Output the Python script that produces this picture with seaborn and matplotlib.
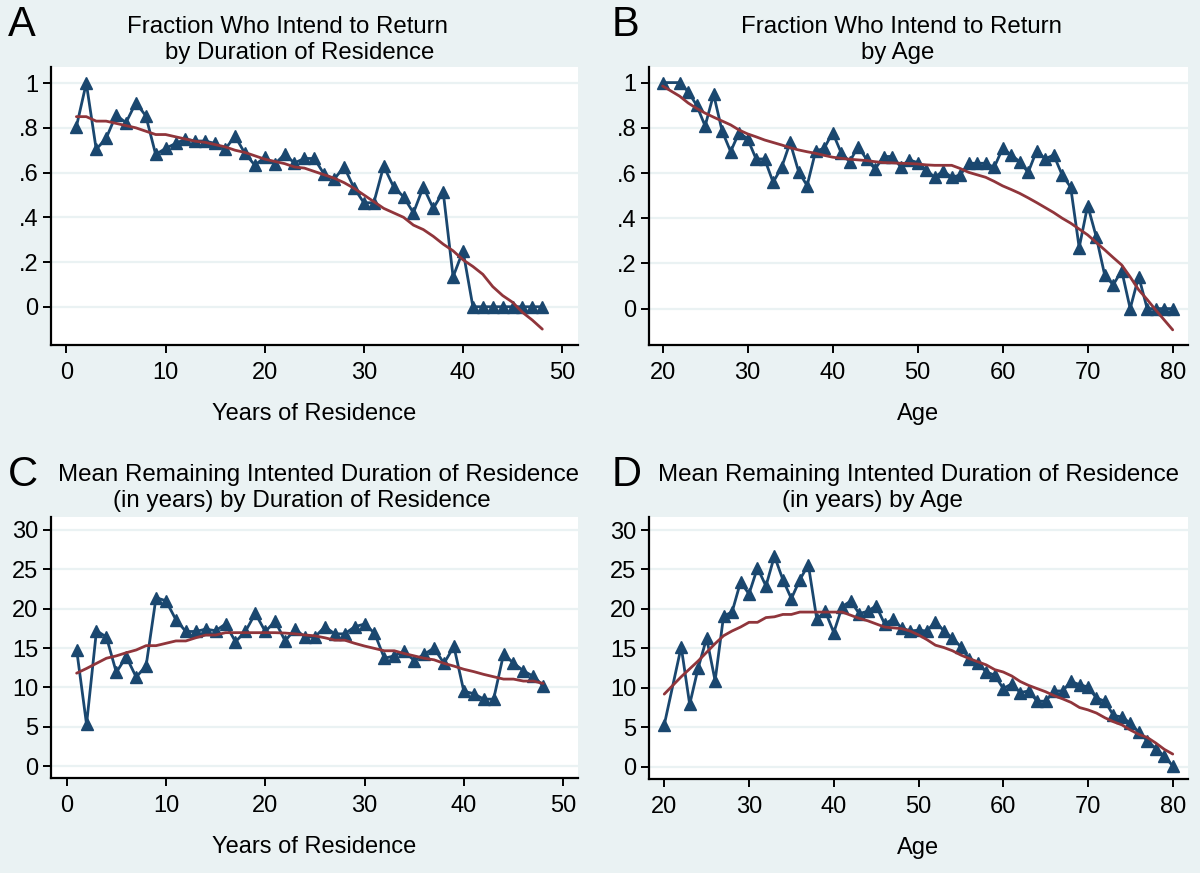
import matplotlib
matplotlib.use("Agg")
import matplotlib.pyplot as plt
import seaborn as sns
import pandas as pd

# ---------------- data ----------------
years = list(range(1, 49))
ages = [20] + list(range(22, 81))

frac_by_years = [0.805, 1.0, 0.704, 0.753, 0.857, 0.823, 0.912, 0.854, 0.681, 0.708,
                 0.730, 0.750, 0.741, 0.741, 0.730, 0.704, 0.763, 0.686, 0.633, 0.668,
                 0.638, 0.681, 0.643, 0.663, 0.663, 0.592, 0.570, 0.626, 0.532, 0.465,
                 0.465, 0.629, 0.536, 0.492, 0.420, 0.536, 0.440, 0.514, 0.134, 0.250,
                 0.0, 0.0, 0.0, 0.0, 0.0, 0.0, 0.0, 0.0]
fit_frac_by_years = [0.85, 0.85, 0.83, 0.83, 0.82, 0.81, 0.80, 0.785, 0.77, 0.77,
                     0.76, 0.75, 0.74, 0.735, 0.725, 0.715, 0.70, 0.69, 0.675, 0.66,
                     0.65, 0.64, 0.625, 0.62, 0.605, 0.59, 0.575, 0.555, 0.53, 0.50,
                     0.47, 0.44, 0.42, 0.40, 0.365, 0.345, 0.315, 0.28, 0.25, 0.21,
                     0.18, 0.145, 0.09, 0.05, 0.02, -0.025, -0.06, -0.10]

frac_by_age = [1.0, 1.0, 0.96, 0.90, 0.808, 0.948, 0.786, 0.695, 0.779, 0.751,
               0.662, 0.662, 0.559, 0.625, 0.735, 0.606, 0.544, 0.697, 0.709, 0.779,
               0.690, 0.650, 0.717, 0.660, 0.618, 0.673, 0.673, 0.628, 0.658, 0.646,
               0.614, 0.581, 0.609, 0.581, 0.591, 0.643, 0.643, 0.643, 0.625, 0.709,
               0.680, 0.650, 0.603, 0.699, 0.662, 0.680, 0.591, 0.537, 0.270, 0.456,
               0.319, 0.149, 0.105, 0.168, 0.0, 0.142, 0.0, 0.0, 0.0, 0.0]
fit_frac_by_age = [0.985, 0.94, 0.91, 0.886, 0.865, 0.847, 0.83, 0.813, 0.79, 0.773,
                   0.76, 0.746, 0.735, 0.724, 0.712, 0.702, 0.694, 0.687, 0.678, 0.67,
                   0.665, 0.661, 0.658, 0.655, 0.65, 0.646, 0.645, 0.643, 0.642, 0.64,
                   0.636, 0.634, 0.634, 0.634, 0.62, 0.603, 0.592, 0.581, 0.563, 0.543,
                   0.527, 0.51, 0.49, 0.469, 0.447, 0.425, 0.40, 0.378, 0.352, 0.326,
                   0.293, 0.26, 0.226, 0.193, 0.14, 0.083, 0.04, -0.006, -0.05, -0.094]

dur_by_years = [14.8, 5.3, 17.2, 16.4, 11.9, 13.9, 11.3, 12.75, 21.4, 21.0,
                18.6, 17.1, 17.1, 17.4, 17.2, 18.05, 15.8, 17.1, 19.4, 17.1,
                18.4, 15.9, 17.4, 16.4, 16.4, 17.7, 16.8, 16.8, 17.7, 18.05,
                16.9, 13.7, 14.0, 14.6, 13.4, 14.2, 15.0, 13.05, 15.2, 9.5,
                9.2, 8.5, 8.5, 14.2, 13.1, 12.1, 11.4, 10.2]
fit_dur_by_years = [11.8, 12.4, 13.05, 13.7, 14.0, 14.4, 14.75, 15.3, 15.3, 15.6,
                    15.9, 15.9, 16.3, 16.65, 16.65, 16.95, 16.95, 16.95, 16.95, 16.95,
                    16.95, 16.9, 16.8, 16.65, 16.55, 16.3, 16.0, 16.0, 15.6, 15.25,
                    14.95, 14.65, 14.65, 14.3, 14.0, 13.7, 13.5, 13.05, 12.7, 12.3,
                    12.0, 11.65, 11.35, 11.05, 11.05, 10.8, 10.8, 10.5]

dur_by_age = [5.3, 15.2, 7.9, 12.5, 16.3, 10.9, 19.1, 19.6, 23.4, 21.9,
              25.2, 22.9, 26.7, 23.7, 21.3, 23.7, 25.6, 18.7, 19.7, 17.0,
              20.3, 21.0, 19.4, 19.7, 20.4, 18.1, 18.7, 17.6, 17.2, 17.3,
              17.2, 18.4, 17.2, 16.3, 15.2, 13.6, 13.1, 12.0, 11.6, 9.9,
              10.5, 9.4, 9.6, 8.3, 8.3, 9.6, 9.6, 10.8, 10.4, 10.1,
              8.7, 8.3, 6.5, 6.3, 5.5, 4.35, 3.3, 2.3, 1.35, 0.1]
fit_dur_by_age = [9.2, 11.4, 12.4, 13.4, 14.5, 15.6, 16.6, 17.2, 17.7, 18.3,
                  18.3, 18.9, 19.0, 19.3, 19.3, 19.6, 19.6, 19.6, 19.6, 19.6,
                  19.6, 19.2, 18.8, 18.5, 18.1, 17.7, 17.6, 17.5, 17.2, 16.7,
                  16.1, 15.4, 15.1, 14.7, 14.15, 13.7, 13.3, 12.9, 12.3, 12.0,
                  11.5, 10.8, 10.3, 9.9, 9.5, 9.0, 8.6, 8.15, 7.5, 7.2,
                  6.8, 6.2, 5.7, 5.3, 4.65, 4.1, 3.7, 3.0, 2.2, 1.6]

frac_ticks = [0, 0.2, 0.4, 0.6, 0.8, 1.0]
frac_ticklabels = ["0", ".2", ".4", ".6", ".8", "1"]
dur_ticks = [0, 5, 10, 15, 20, 25, 30]
dur_ticklabels = ["0", "5", "10", "15", "20", "25", "30"]
years_ticks = [0, 10, 20, 30, 40, 50]
age_ticks = [20, 30, 40, 50, 60, 70, 80]

# ---------------- style ----------------
sns.set_theme(style="white")
plt.rcParams['font.family'] = ['Liberation Sans', 'DejaVu Sans']

BG = "#EAF2F3"
NAVY = "#1A476F"
MAROON = "#90353B"
GRID = "#EAF2F3"

W, H = 1200, 873
fig = plt.figure(figsize=(W / 100, H / 100), dpi=100, facecolor=BG)


def px_axes(left, top, right, bottom):
    return fig.add_axes([left / W, 1 - bottom / H, (right - left) / W, (bottom - top) / H])


def style_axes(ax, xlim, ylim, xticks, yticks, yticklabels, xlabel):
    ax.set_facecolor("white")
    ax.set_xlim(*xlim)
    ax.set_ylim(*ylim)
    ax.set_xticks(xticks)
    ax.set_xticklabels([str(t) for t in xticks])
    ax.set_yticks(yticks)
    ax.set_yticklabels(yticklabels)
    for s in ["top", "right"]:
        ax.spines[s].set_visible(False)
    for s in ["left", "bottom"]:
        ax.spines[s].set_visible(True)
        ax.spines[s].set_color("black")
        ax.spines[s].set_linewidth(1.6)
    ax.tick_params(axis="both", direction="out", length=6, width=1.4, color="black",
                   labelsize=17, labelcolor="black", pad=3)
    ax.tick_params(axis="x", pad=6)
    ax.tick_params(left=True, bottom=True)
    ax.yaxis.grid(True, color=GRID, linewidth=1.6)
    ax.xaxis.grid(False)
    ax.set_axisbelow(True)
    ax.set_xlabel(xlabel, fontsize=17, color="black", labelpad=14)
    ax.set_ylabel("")


def draw(ax, x, y, fit):
    df = pd.DataFrame({"x": x, "y": y, "fit": fit})
    sns.lineplot(data=df, x="x", y="y", ax=ax, color=NAVY, linewidth=2.0,
                 marker="^", markersize=9, markeredgecolor=NAVY, markeredgewidth=1.0,
                 zorder=3)
    sns.lineplot(data=df, x="x", y="fit", ax=ax, color=MAROON, linewidth=2.0, zorder=4)


# Panel A
axA = px_axes(51, 67, 578, 345)
draw(axA, years, frac_by_years, fit_frac_by_years)
style_axes(axA, (-1.56, 51.6), (-0.171, 1.072), years_ticks, frac_ticks, frac_ticklabels,
           "Years of Residence")

# Panel B
axB = px_axes(649, 67, 1188, 345)
draw(axB, ages, frac_by_age, fit_frac_by_age)
style_axes(axB, (18.4, 81.8), (-0.161, 1.069), age_ticks, frac_ticks, frac_ticklabels, "Age")

# Panel C
axC = px_axes(51, 517, 578, 778)
draw(axC, years, dur_by_years, fit_dur_by_years)
style_axes(axC, (-1.58, 51.5), (-1.52, 31.65), years_ticks, dur_ticks, dur_ticklabels,
           "Years of Residence")

# Panel D
axD = px_axes(649, 517, 1188, 779)
draw(axD, ages, dur_by_age, fit_dur_by_age)
style_axes(axD, (18.2, 81.8), (-1.56, 31.65), age_ticks, dur_ticks, dur_ticklabels, "Age")

# titles
def ftext(x, y, s, size, ha="center"):
    fig.text(x / W, 1 - y / H, s, fontsize=size, ha=ha, va="baseline", color="black")

TS = 17.3
ftext(287, 33, "Fraction Who Intend to Return", TS)
ftext(300, 59, "by Duration of Residence", TS)
ftext(901, 33, "Fraction Who Intend to Return", TS)
ftext(898, 59, "by Age", TS)
TS2 = 17.4
ftext(318, 481, "Mean Remaining Intented Duration of Residence", TS2)
ftext(302, 507, "(in years) by Duration of Residence", TS2)
ftext(918, 481, "Mean Remaining Intented Duration of Residence", TS2)
ftext(872, 507, "(in years) by Age", TS2)

# panel letters
ftext(8, 36, "A", 30, ha="left")
ftext(612, 36, "B", 30, ha="left")
ftext(8, 486, "C", 30, ha="left")
ftext(612, 486, "D", 30, ha="left")

fig.savefig("out.png", dpi=100, facecolor=BG)
